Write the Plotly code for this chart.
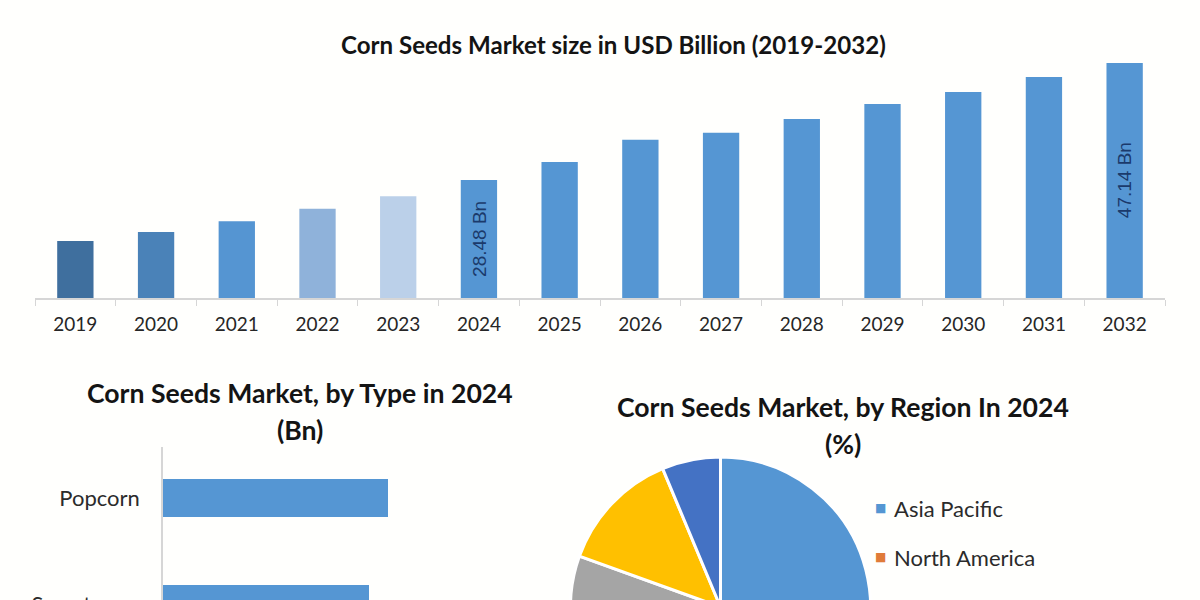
import plotly.graph_objects as go

# ---- data ----
years = ["2019","2020","2021","2022","2023","2024","2025","2026","2027","2028","2029","2030","2031","2032"]
market_bn = [18.75,20.2,21.9,23.9,25.9,28.48,31.35,34.9,36.0,38.2,40.6,42.5,44.9,47.14]
bar_labels = ["","","","","","28.48 Bn","","","","","","","","47.14 Bn"]
bar_colors = ["#3f6f9e","#4a82b8","#5595d2","#8fb2da","#bbd0e9","#5596d3","#5596d3","#5596d3","#5596d3",
              "#5596d3","#5596d3","#5596d3","#5596d3","#5596d3"]
types = ["Popcorn","Sweet corn"]
type_values = [225,206]
regions = ["Asia Pacific","North America","Europe","Middle East and Africa","South America"]
region_share = [42,22,16.5,13.2,6.3]
region_colors = ["#5596d3","#e07b39","#a5a5a5","#ffc000","#4472c4"]

W, H = 1200, 800
FONT = "Lato"
Y_BASE = 9.66
def py(p): return 1 - p / H
def px(p): return p / W

fig = go.Figure()
fig.add_trace(go.Bar(x=years, y=market_bn, marker=dict(color=bar_colors, line=dict(width=0)),
                     xaxis="x", yaxis="y", showlegend=False))
fig.add_trace(go.Bar(y=types, x=type_values, orientation="h", width=0.36,
                     marker=dict(color="#5596d3", line=dict(width=0)),
                     xaxis="x2", yaxis="y2", showlegend=False))
fig.add_trace(go.Pie(labels=regions, values=region_share, sort=False, direction="clockwise",
                     rotation=0, textinfo="none", showlegend=False,
                     marker=dict(colors=region_colors, line=dict(color="#ffffff", width=3)),
                     domain=dict(x=[px(570.5), px(870.5)], y=[py(757), py(457)])))

axis_col = "#d6d6d6"
annotations = []
def title(text, x, y, size):
    annotations.append(dict(text=f"<b>{text}</b>", x=px(x), y=py(y), xref="paper", yref="paper",
                            showarrow=False, xanchor="center", yanchor="middle",
                            font=dict(family=FONT, size=size, color="#141414")))
title("Corn Seeds Market size in USD Billion (2019-2032)", 613, 44, 24.1)
title("Corn Seeds Market, by Type in 2024", 300, 393, 26.6)
title("(Bn)", 300, 430, 26.6)
title("Corn Seeds Market, by Region In 2024", 843, 407, 26.6)
title("(%)", 843, 444, 26.6)

for idx, (val, lab) in enumerate(zip(market_bn, bar_labels)):
    if lab:
        annotations.append(dict(text=lab, x=idx, y=(val + Y_BASE) / 2, xref="x", yref="y", showarrow=False,
                                textangle=-90, xanchor="center", yanchor="middle",
                                font=dict(family="Liberation Sans", size=19, color="#1b3a6b")))

for i, (name, col) in enumerate(zip(regions, region_colors)):
    yy = 508 + 49 * i
    annotations.append(dict(text="■", x=px(873), y=py(yy), xref="paper", yref="paper", showarrow=False,
                            xanchor="left", yanchor="middle", font=dict(family="DejaVu Sans", size=12, color=col)))
    annotations.append(dict(text=name, x=px(892), y=py(yy), xref="paper", yref="paper", showarrow=False,
                            xanchor="left", yanchor="middle", font=dict(family=FONT, size=22, color="#2b2b2b")))

fig.update_layout(
    width=W, height=H, margin=dict(l=0, r=0, t=0, b=0),
    paper_bgcolor="#fffffd", plot_bgcolor="rgba(0,0,0,0)",
    bargap=0.55, annotations=annotations,
    xaxis=dict(domain=[px(35), px(1165)], anchor="y", type="category", tickson="boundaries",
               categoryorder="array", categoryarray=years, range=[-0.5, len(years) - 0.5],
               showline=True, linecolor=axis_col, linewidth=1.5, ticks="outside", tickcolor=axis_col,
               ticklen=6, showgrid=False, ticklabelstandoff=8, tickangle=0,
               tickfont=dict(family=FONT, size=19, color="#262626")),
    yaxis=dict(domain=[py(298), py(55)], anchor="x", range=[Y_BASE, Y_BASE + 243 * 0.1595],
               visible=False, showgrid=False),
    xaxis2=dict(domain=[px(163), px(520)], anchor="y2", range=[0, 357], visible=False, showgrid=False),
    yaxis2=dict(domain=[py(710), py(447)], anchor="x2", type="category", autorange=False,
                range=[1 + (710 - 604) / 106, -(498 - 447) / 106],
                showline=True, linecolor=axis_col, linewidth=1.5, ticks="", ticklen=0, showgrid=False,
                ticklabelstandoff=17,
                tickfont=dict(family=FONT, size=22, color="#2b2b2b")),
)
fig.write_html("out.html", config=dict(displayModeBar=False),
               post_script="document.body.style.margin='0';document.body.style.overflow='hidden';")
